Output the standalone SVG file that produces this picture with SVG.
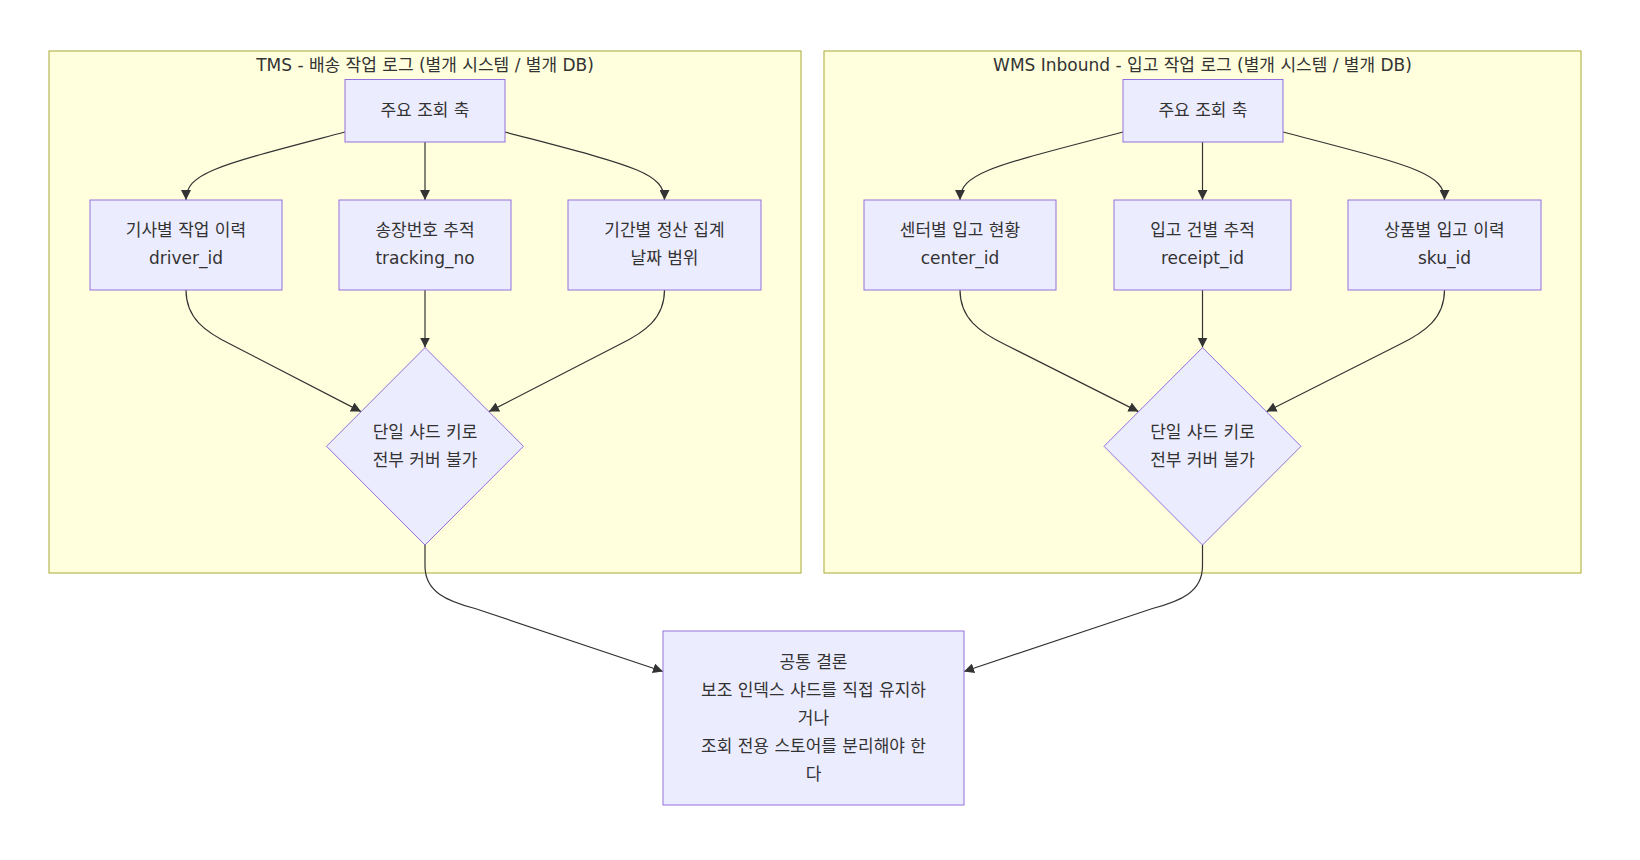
<svg xmlns="http://www.w3.org/2000/svg" width="1640" height="860" viewBox="0 0 1640 860">
<style>
.cluster{fill:#ffffde;stroke:#aaaa33;stroke-width:1}
.node{fill:#ECECFF;stroke:#9370DB;stroke-width:1}
text{font-family:"DejaVu Sans","Noto Sans CJK KR",sans-serif;font-size:17px;fill:#333;text-anchor:middle;dominant-baseline:central}
.edge{fill:none;stroke:#333;stroke-width:1.2}
</style>
<defs>
<marker id="arrow" viewBox="0 0 10 10" refX="10" refY="5" markerUnits="userSpaceOnUse" markerWidth="10" markerHeight="10" orient="auto">
<path d="M0,0 L10,5 L0,10 z" fill="#333"/>
</marker>
</defs>
<rect width="1640" height="860" fill="#ffffff"/>
<g id="cluster-tms">
<rect class="cluster" x="49" y="51" width="752" height="522"/>
<text x="425" y="64.5">TMS - 배송 작업 로그 (별개 시스템 / 별개 DB)</text>
</g>
<g id="cluster-wms">
<rect class="cluster" x="824" y="51" width="757" height="522"/>
<text x="1202.5" y="64.5">WMS Inbound - 입고 작업 로그 (별개 시스템 / 별개 DB)</text>
</g>
<g id="connectors">
<path class="edge" marker-end="url(#arrow)" d="M345,132 C220,165 186,172 186,200"/>
<path class="edge" marker-end="url(#arrow)" d="M425,142 L425,200"/>
<path class="edge" marker-end="url(#arrow)" d="M505,132 C630,165 664.5,172 664.5,200"/>
<path class="edge" marker-end="url(#arrow)" d="M186,290 C186,318 205,332 232,345 L361,411.6"/>
<path class="edge" marker-end="url(#arrow)" d="M425,290 L425,347.6"/>
<path class="edge" marker-end="url(#arrow)" d="M664.5,290 C664.5,318 645.5,332 618.5,345 L489,411.6"/>
<path class="edge" marker-end="url(#arrow)" d="M425,545 L425,566 C425,592 447,601 475,608.5 L663,671.5"/>
<path class="edge" marker-end="url(#arrow)" d="M1123,132 C998,165 960,172 960,200"/>
<path class="edge" marker-end="url(#arrow)" d="M1202.5,142 L1202.5,200"/>
<path class="edge" marker-end="url(#arrow)" d="M1283,132 C1408,165 1444.5,172 1444.5,200"/>
<path class="edge" marker-end="url(#arrow)" d="M960,290 C960,318 979,332 1006,345 L1138.5,411.6"/>
<path class="edge" marker-end="url(#arrow)" d="M1202.5,290 L1202.5,347.6"/>
<path class="edge" marker-end="url(#arrow)" d="M1444.5,290 C1444.5,318 1425.5,332 1398.5,345 L1266.5,411.6"/>
<path class="edge" marker-end="url(#arrow)" d="M1202.5,545 L1202.5,566 C1202.5,592 1180.5,601 1152.5,608.5 L964,671.5"/>
</g>
<g id="tms-axis">
<rect class="node" x="345" y="79.5" width="160" height="62.5"/>
<text x="425" y="110">주요 조회 축</text>
</g>
<g id="tms-driver">
<rect class="node" x="90" y="200" width="192" height="90"/>
<text x="186" y="230">기사별 작업 이력</text>
<text x="186" y="258">driver_id</text>
</g>
<g id="tms-tracking">
<rect class="node" x="339" y="200" width="172" height="90"/>
<text x="425" y="230">송장번호 추적</text>
<text x="425" y="258">tracking_no</text>
</g>
<g id="tms-period">
<rect class="node" x="568" y="200" width="193" height="90"/>
<text x="664.5" y="230">기간별 정산 집계</text>
<text x="664.5" y="258">날짜 범위</text>
</g>
<g id="tms-decision">
<polygon class="node" points="425,347.6 523.5,446.3 425,545 326.5,446.3"/>
<text x="425" y="432">단일 샤드 키로</text>
<text x="425" y="460">전부 커버 불가</text>
</g>
<g id="wms-axis">
<rect class="node" x="1123" y="79.5" width="160" height="62.5"/>
<text x="1203" y="110">주요 조회 축</text>
</g>
<g id="wms-center">
<rect class="node" x="864" y="200" width="192" height="90"/>
<text x="960" y="230">센터별 입고 현황</text>
<text x="960" y="258">center_id</text>
</g>
<g id="wms-receipt">
<rect class="node" x="1114" y="200" width="177" height="90"/>
<text x="1202.5" y="230">입고 건별 추적</text>
<text x="1202.5" y="258">receipt_id</text>
</g>
<g id="wms-sku">
<rect class="node" x="1348" y="200" width="193" height="90"/>
<text x="1444.5" y="230">상품별 입고 이력</text>
<text x="1444.5" y="258">sku_id</text>
</g>
<g id="wms-decision">
<polygon class="node" points="1202.5,347.6 1301,446.3 1202.5,545 1104,446.3"/>
<text x="1202.5" y="432">단일 샤드 키로</text>
<text x="1202.5" y="460">전부 커버 불가</text>
</g>
<g id="conclusion">
<rect class="node" x="663" y="631" width="301" height="174"/>
<text x="813.5" y="662">공통 결론</text>
<text x="813.5" y="690">보조 인덱스 샤드를 직접 유지하</text>
<text x="813.5" y="718">거나</text>
<text x="813.5" y="746">조회 전용 스토어를 분리해야 한</text>
<text x="813.5" y="774">다</text>
</g>
</svg>
